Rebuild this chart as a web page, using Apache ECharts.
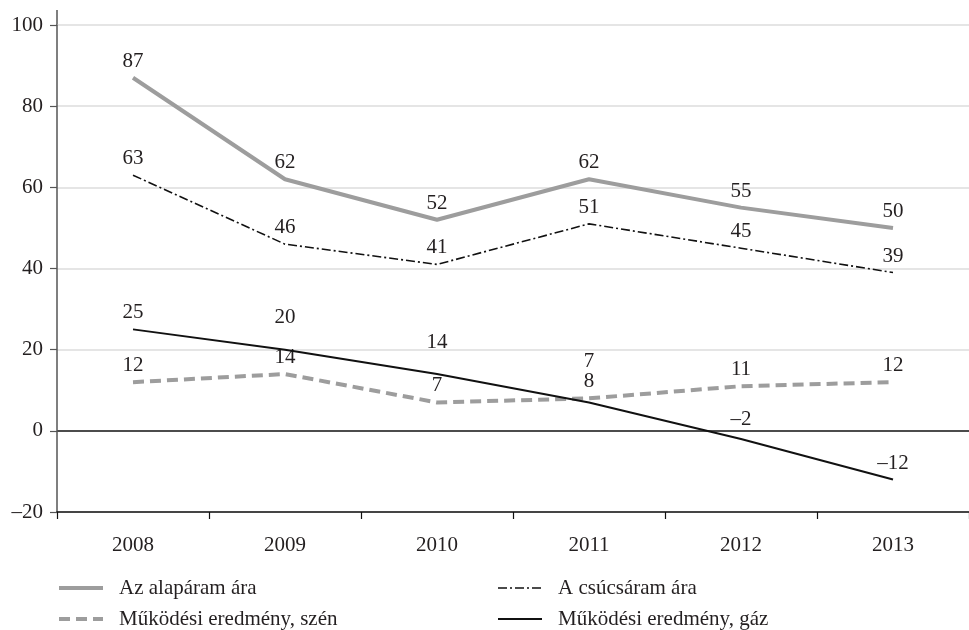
<!DOCTYPE html>
<html>
<head>
<meta charset="utf-8">
<script src="https://cdn.jsdelivr.net/npm/echarts@6/dist/echarts.min.js"></script>
<style>html,body{margin:0;padding:0;background:#fff;}#c{width:969px;height:630px;}</style>
</head>
<body>
<div id="c"></div>
<script>
const years = ['2008', '2009', '2010', '2011', '2012', '2013'];
const alapar = [87, 62, 52, 62, 55, 50];
const csucsar = [63, 46, 41, 51, 45, 39];
const szen = [12, 14, 7, 8, 11, 12];
const gaz = [25, 20, 14, 7, -2, -12];
const seriesNames = ['Az alapáram ára', 'A csúcsáram ára', 'Működési eredmény, szén', 'Működési eredmény, gáz'];
// extra vertical label nudges for the gas series (px)
const gazLabelShift = [0, -16, -15, -24, -3, 0];

const FONT = 'Liberation Serif';
const FS = 21;
const TXT = '#231f20';
const dash = v => String(v).replace('-', '\u2013');

const chart = echarts.init(document.getElementById('c'), null, {renderer: 'canvas'});

function lbl() {
  return {show: true, position: 'top', distance: 6, fontFamily: FONT, fontSize: FS, color: TXT,
    formatter: p => dash(p.value)};
}
const legendText = {fontFamily: FONT, fontSize: FS, color: TXT, lineHeight: 22, padding: [0, 0, 0, 11]};
const legendCommon = {
  orient: 'vertical', top: 577, padding: 0, itemGap: 9,
  itemWidth: 44, itemHeight: 14, itemStyle: {opacity: 0},
  lineStyle: {width: 'inherit', type: 'inherit', color: 'inherit'},
  textStyle: legendText
};

chart.setOption({
  animation: false,
  backgroundColor: '#fff',
  textStyle: {fontFamily: FONT},
  grid: {left: 57, right: 0, top: 25, bottom: 118, containLabel: false},
  xAxis: {
    type: 'category', data: years, boundaryGap: true,
    axisLine: {onZero: false, lineStyle: {color: '#111', width: 1.5}},
    axisTick: {show: true, length: 7, lineStyle: {color: '#111', width: 1.2}},
    axisLabel: {fontFamily: FONT, fontSize: FS, color: TXT, margin: 23},
    splitLine: {show: false}
  },
  yAxis: {
    type: 'value', min: -20, max: 100, interval: 20,
    axisLine: {show: true, lineStyle: {color: '#555', width: 1.5}},
    axisTick: {show: true, length: 7, lineStyle: {color: '#555', width: 1.2}},
    axisLabel: {fontFamily: FONT, fontSize: FS, color: TXT, margin: 14, formatter: v => dash(v)},
    splitLine: {show: true, lineStyle: {color: ['#dcdcdc', '#111', '#dcdcdc', '#dcdcdc', '#dcdcdc', '#dcdcdc', '#dcdcdc'], width: 1.5}}
  },
  legend: [
    Object.assign({left: 57, data: [seriesNames[0], seriesNames[2]]}, legendCommon),
    Object.assign({left: 497, data: [seriesNames[1], seriesNames[3]]}, legendCommon)
  ],
  graphic: [{
    type: 'line', shape: {x1: 57, y1: 10, x2: 57, y2: 26},
    style: {stroke: '#555', lineWidth: 1.5}, silent: true
  }],
  series: [
    {
      name: seriesNames[2], type: 'line', data: szen, symbol: 'circle', symbolSize: 0, z: 3,
      lineStyle: {color: '#9d9d9d', width: 4, type: [11, 6]}, itemStyle: {color: '#9d9d9d'},
      label: lbl()
    },
    {
      name: seriesNames[3], type: 'line', symbol: 'circle', symbolSize: 0, z: 4,
      data: gaz.map((v, i) => ({value: v, label: {offset: [0, gazLabelShift[i]]}})),
      lineStyle: {color: '#111', width: 2}, itemStyle: {color: '#111'},
      label: lbl()
    },
    {
      name: seriesNames[0], type: 'line', data: alapar, symbol: 'circle', symbolSize: 0, z: 3,
      lineStyle: {color: '#9d9d9d', width: 4}, itemStyle: {color: '#9d9d9d'},
      label: lbl()
    },
    {
      name: seriesNames[1], type: 'line', data: csucsar, symbol: 'circle', symbolSize: 0, z: 4,
      lineStyle: {color: '#111', width: 1.6, type: [9, 3, 2, 3]}, itemStyle: {color: '#111'},
      label: lbl()
    }
  ]
});
</script>
</body>
</html>
